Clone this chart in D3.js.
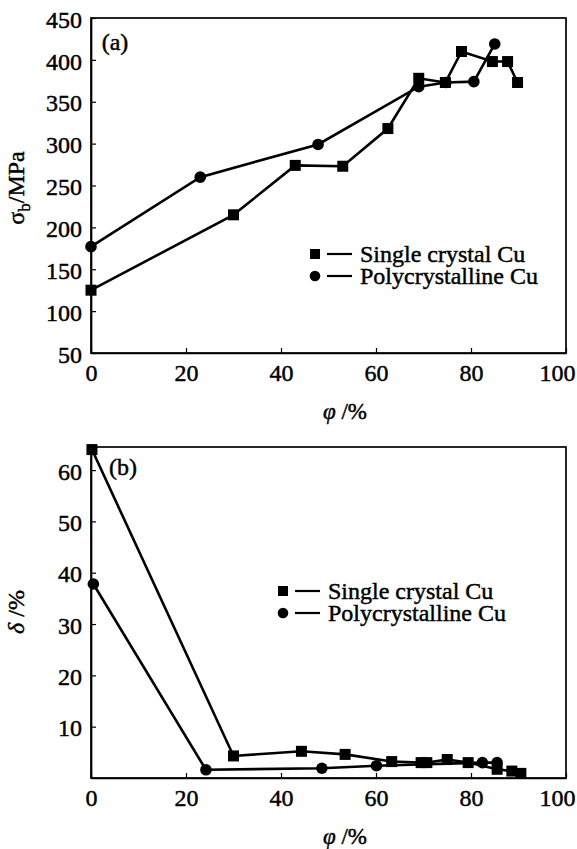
<!DOCTYPE html>
<html><head><meta charset="utf-8">
<script src="https://cdn.jsdelivr.net/npm/d3@7"></script>
<style>
body{margin:0;background:#fff;}
svg{display:block;}
text{font-family:"Liberation Serif","Times New Roman",serif;fill:#000;stroke:#000;stroke-width:0.45px;}
</style></head>
<body>
<script>
// ---- Data ----
const xTicks = [0,20,40,60,80,100];
const yTicksA = [50,100,150,200,250,300,350,400,450];
const yTicksB = [10,20,30,40,50,60];
const seriesNames = ["Single crystal Cu","Polycrystalline Cu"];

// Panel (a): tensile strength sigma_b (MPa) vs phi (%)
const aSingleX = [0,30,43,53,62.5,69,74.6,78,84.5,87.7,89.8];
const aSingleY = [125,215,274,273,318,378,373,410,398,398,373];
const aPolyX   = [0,23,47.8,69,74.7,80.6,85];
const aPolyY   = [177,260,299,368,373,374,419];

// Panel (b): elongation delta (%) vs phi (%)
const bSingleX = [0.2,30,44.3,53.5,63.3,69.5,70.7,75,79.4,85.5,88.6,90.5];
const bSingleY = [64,4.3,5.2,4.6,3.2,3.0,3.0,3.6,3.0,1.7,1.35,0.9];
const bPolyX   = [0.5,24.2,48.6,60.1,82.4,85.5];
const bPolyY   = [37.8,1.6,1.9,2.4,3.0,3.0];

const W = 577, H = 849;
const svg = d3.select("body").append("svg").attr("width",W).attr("height",H);
svg.append("rect").attr("width",W).attr("height",H).attr("fill","#fff");

function zip(xs, ys){ return xs.map((x,i)=>({x, y: ys[i]})); }

function panel(opts){
  const {top,bottom,left,right,yDomain,yTicks,singleX,singleY,polyX,polyY,tag,tagPos,legendPos,ylabel,ylabelY} = opts;
  const x = d3.scaleLinear().domain([0,100]).range([left,right]);
  const y = d3.scaleLinear().domain(yDomain).range([bottom,top]);
  const g = svg.append("g");

  // frame
  g.append("rect").attr("x",left).attr("y",top).attr("width",right-left).attr("height",bottom-top)
    .attr("fill","none").attr("stroke","#000").attr("stroke-width",1.7);

  // x axis (ticks inward)
  const xa = g.append("g").attr("transform",`translate(0,${bottom})`)
    .call(d3.axisBottom(x).tickValues(xTicks).tickSizeInner(-5).tickSizeOuter(0).tickPadding(11).tickFormat(d3.format("d")));
  xa.select(".domain").attr("stroke-width",1.7);
  xa.selectAll(".tick line").attr("stroke-width",1.2);
  xa.selectAll("text").attr("font-size",24).attr("dy","0.72em")
    .attr("dx",d=>d===100?-9:0);

  // y axis (ticks inward)
  const ya = g.append("g").attr("transform",`translate(${left},0)`)
    .call(d3.axisLeft(y).tickValues(yTicks).tickSizeInner(-5).tickSizeOuter(0).tickPadding(9).tickFormat(d3.format("d")));
  ya.select(".domain").attr("stroke-width",1.7);
  ya.selectAll(".tick line").attr("stroke-width",1.2);
  ya.selectAll("text").attr("font-size",24).attr("dy","0.38em");

  const line = d3.line().x(d=>x(d.x)).y(d=>y(d.y));
  const sd = zip(singleX,singleY), pd = zip(polyX,polyY);

  g.append("path").datum(sd).attr("d",line).attr("fill","none").attr("stroke","#000").attr("stroke-width",2.6);
  g.append("path").datum(pd).attr("d",line).attr("fill","none").attr("stroke","#000").attr("stroke-width",2.6);

  g.selectAll(".sq").data(sd).join("rect")
    .attr("x",d=>x(d.x)-5.5).attr("y",d=>y(d.y)-5.5).attr("width",11).attr("height",11).attr("fill","#000");
  g.selectAll(".ci").data(pd).join("circle")
    .attr("cx",d=>x(d.x)).attr("cy",d=>y(d.y)).attr("r",5.8).attr("fill","#000");

  // panel tag
  g.append("text").attr("x",tagPos[0]).attr("y",tagPos[1]).attr("font-size",24)
    .attr("text-anchor","middle").attr("dy","0.35em").text(tag);

  // legend
  const [lx,ly] = legendPos;
  const rowH = 22;
  seriesNames.forEach((name,i)=>{
    const cy = ly + i*rowH;
    if(i===0) g.append("rect").attr("x",lx-5).attr("y",cy-5).attr("width",10).attr("height",10).attr("fill","#000");
    else g.append("circle").attr("cx",lx).attr("cy",cy).attr("r",5.3).attr("fill","#000");
    g.append("line").attr("x1",lx+12).attr("x2",lx+37).attr("y1",cy).attr("y2",cy).attr("stroke","#000").attr("stroke-width",2.2);
    g.append("text").attr("x",lx+45).attr("y",cy).attr("dy","0.33em").attr("font-size",24).text(name);
  });

  // x title
  const xt = g.append("text").attr("x",345).attr("y",bottom+58).attr("dy","0.35em")
    .attr("text-anchor","middle").attr("font-size",23);
  xt.append("tspan").attr("font-style","italic").text("φ");
  xt.append("tspan").text(" /%");

  // y title
  const yt = g.append("text").attr("transform",`translate(24,${ylabelY}) rotate(-90)`)
    .attr("text-anchor","middle").attr("font-size",24);
  ylabel(yt);
}

panel({top:18,bottom:353,left:91,right:566,yDomain:[50,450],yTicks:yTicksA,
  singleX:aSingleX,singleY:aSingleY,polyX:aPolyX,polyY:aPolyY,
  tag:"(a)",tagPos:[115,42],legendPos:[315,254],ylabelY:188,
  ylabel:t=>{ t.append("tspan").text("σ"); t.append("tspan").attr("font-size",17).attr("dy","6").text("b"); t.append("tspan").attr("dy","-6").text("/MPa"); }});

panel({top:447,bottom:778,left:91,right:566,yDomain:[0,64.5],yTicks:yTicksB,
  singleX:bSingleX,singleY:bSingleY,polyX:bPolyX,polyY:bPolyY,
  tag:"(b)",tagPos:[123,467],legendPos:[283,591],ylabelY:612,
  ylabel:t=>{ t.append("tspan").attr("font-style","italic").text("δ"); t.append("tspan").text(" /%"); }});
</script>
</body></html>
